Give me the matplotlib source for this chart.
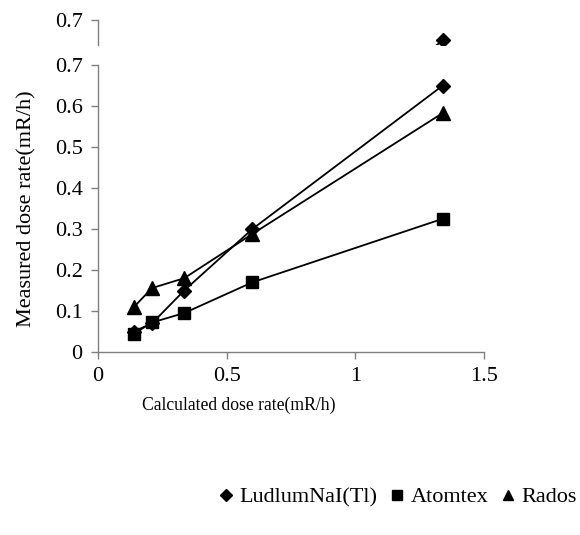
import numpy as np
import matplotlib
matplotlib.use("Agg")
import matplotlib.pyplot as plt
from matplotlib.lines import Line2D
from matplotlib.patches import Rectangle

plt.rcParams['font.family'] = ['Liberation Serif', 'DejaVu Serif']
plt.rcParams['font.size'] = 16

# data
calc_rate = [0.14, 0.21, 0.335, 0.6, 1.34]
ludlum = [0.05, 0.07, 0.15, 0.30, 0.65]
atomtex = [0.045, 0.072, 0.095, 0.17, 0.325]
rados = [0.11, 0.156, 0.18, 0.288, 0.583]

series_names = ['LudlumNaI(Tl)', 'Atomtex', 'Rados']
series_markers = ['D', 's', '^']
series_sizes = [7.5, 9, 9.5]

x_ticks = [0, 0.5, 1, 1.5]
x_ticklabels = ['0', '0.5', '1', '1.5']
y_ticks = [0, 0.1, 0.2, 0.3, 0.4, 0.5, 0.6, 0.7]
y_ticklabels = ['0', '0.1', '0.2', '0.3', '0.4', '0.5', '0.6', '0.7']

W, H = 580, 535
fig = plt.figure(figsize=(W / 100, H / 100), dpi=100)

def px(x0, y0, x1, y1):
    # pixel box (top-left origin) -> figure fraction rect
    return [x0 / W, 1 - y1 / H, (x1 - x0) / W, (y1 - y0) / H]

axis_gray = '#808080'

def style_axes(a):
    for s in ['top', 'right']:
        a.spines[s].set_visible(False)
    for s in ['left', 'bottom']:
        a.spines[s].set_color(axis_gray)
        a.spines[s].set_linewidth(1.0)
    a.tick_params(direction='out', length=5, width=1.0, color=axis_gray,
                  labelcolor='black', pad=6)

# main axes
ax = fig.add_axes(px(98, 65, 484, 352))
all_series = [ludlum, atomtex, rados]
for vals, m, ms in zip(all_series, series_markers, series_sizes):
    ax.plot(calc_rate, vals, color='black', lw=1.3, marker=m, ms=ms,
            clip_on=False)
ax.set_xlim(0, 1.5)
ax.set_ylim(0, 0.7)
ax.set_xticks(x_ticks)
ax.set_xticklabels(x_ticklabels)
ax.set_yticks(y_ticks)
ax.set_yticklabels(y_ticklabels)
style_axes(ax)

fig.text(27 / W, 1 - 209 / H, 'Measured dose rate(mR/h)', rotation=90,
         ha='center', va='center')
fig.text(239 / W, 1 - 405 / H, 'Calculated dose rate(mR/h)',
         ha='center', va='center', fontsize=12.7)

# duplicated top strip (render artefact in the source picture)
strip_top, strip_bot = 20, 45
ax2 = fig.add_axes(px(98, strip_top, 484, strip_bot))
span = (strip_bot - strip_top) / (352 - 65) * 0.7
for vals, m, ms in zip(all_series, series_markers, series_sizes):
    ax2.plot(calc_rate, vals, color='black', lw=1.3, marker=m, ms=ms)
ax2.set_xlim(0, 1.5)
ax2.set_ylim(0.7 - span, 0.7)
ax2.set_yticks([0.7])
ax2.set_yticklabels(['0.7'])
ax2.set_xticks([])
style_axes(ax2)
ax2.spines['bottom'].set_visible(False)
ax2.patch.set_visible(False)

ghost = fig.text(27 / W, 1 - (209 - 46) / H, 'Measured dose rate(mR/h)',
                 rotation=90, ha='center', va='center')
clip = Rectangle((0, 1 - 46 / H), 1, 46 / H, transform=fig.transFigure)
ghost.set_clip_path(clip)

# legend
handles = [Line2D([], [], color='black', ls='none', marker=m, ms=s * 0.75)
           for m, s in zip(series_markers, series_sizes)]
fig.legend(handles, series_names, loc='center right', ncol=3,
           bbox_to_anchor=(577 / W, 1 - 497 / H), frameon=False,
           handlelength=0.6, handletextpad=0.3, columnspacing=0.6,
           borderaxespad=0, borderpad=0)

fig.savefig('out.png', dpi=100)
